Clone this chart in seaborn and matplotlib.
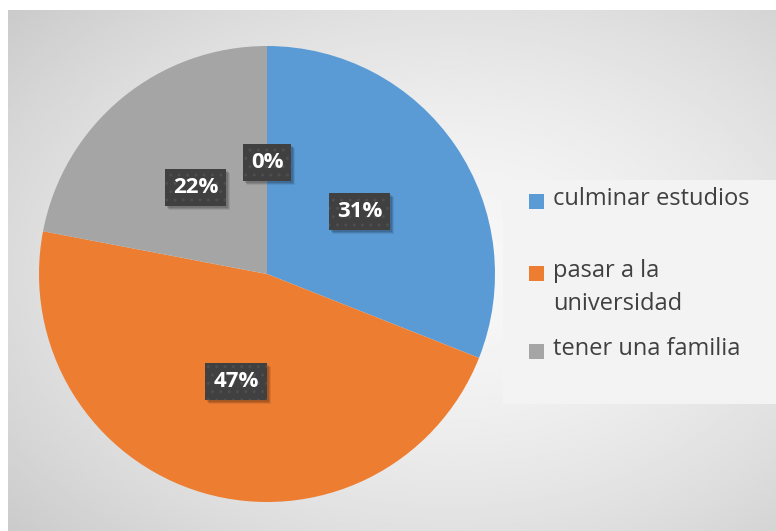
import numpy as np
import matplotlib

matplotlib.use('Agg')
import matplotlib.pyplot as plt
from matplotlib.patches import Rectangle
import seaborn as sns

categories = ['culminar estudios', 'pasar a la\nuniversidad', 'tener una familia', '']
values = [31, 47, 22, 0]
colors = ['#5B9BD5', '#ED7D31', '#A5A5A5', '#FFC000']
legend_y = [201, 273, 351]  # pixel rows of the legend entries

sns.set_style('white')
plt.rcParams['font.family'] = ['Open Sans', 'DejaVu Sans']

W, H = 776, 531
fig = plt.figure(figsize=(W / 100, H / 100), dpi=100)
fig.patch.set_facecolor('white')

# chart area with a soft radial gradient
bg = fig.add_axes([8 / W, 0, 1 - 8 / W, 1 - 10 / H])
yy, xx = np.mgrid[0:200, 0:300]
cx, cy = 300 * (450 - 8) / (W - 8), 200 * (270 - 10) / (H - 10)
d = np.sqrt(((xx - cx) / 300) ** 2 + ((yy - cy) / 200) ** 2)
shade = 0.97 - 0.19 * np.clip(d / 0.8, 0, 1) ** 1.6
bg.imshow(shade, cmap='gray', vmin=0, vmax=1, aspect='auto', interpolation='bilinear')
bg.set_axis_off()

# legend panel
fig.patches.append(Rectangle((503 / W, 1 - 404 / H), (W - 503) / W, 224 / H,
                             transform=fig.transFigure, facecolor='#f3f3f3',
                             edgecolor='none', zorder=1))

cxp, cyp, r = 267, 274, 228
ax = fig.add_axes([(cxp - r) / W, (H - cyp - r) / H, 2 * r / W, 2 * r / H])
wedges, texts, autotexts = ax.pie(values, colors=colors, startangle=90, counterclock=False,
                                  autopct='%1.0f%%', pctdistance=0.49,
                                  wedgeprops=dict(linewidth=0))
ax.set_xlim(-1, 1)
ax.set_ylim(-1, 1)
ax.set_axis_off()

for t in autotexts:
    t.set_color('white')
    t.set_fontsize(16)
    t.set_fontweight('bold')
    t.set_zorder(5)
    t.set_bbox(dict(boxstyle='square,pad=0.36', facecolor='#404040', edgecolor='#4e4e4e',
                    linewidth=0, hatch='..'))

# soft drop shadow behind the label boxes
fig.canvas.draw()
for t in autotexts:
    ext = t.get_bbox_patch().get_window_extent()
    for k, a in [(4, 0.08), (3, 0.12), (2, 0.12)]:
        ax.add_patch(Rectangle((ext.x0 + k, ext.y0 - k), ext.width, ext.height,
                               transform=None, facecolor='black', alpha=a,
                               edgecolor='none', zorder=4))

# legend entries
for label, y, c in zip(categories[:3], legend_y, colors):
    fig.patches.append(Rectangle((529 / W, 1 - (y + 7.5) / H), 15 / W, 15 / H,
                                 transform=fig.transFigure, facecolor=c,
                                 edgecolor='none', zorder=2))
    fig.text(553 / W, 1 - (y - 14) / H, label, fontsize=17, color='#404040',
             va='top', linespacing=1.5, zorder=3)

plt.savefig('out.png', dpi=100)
plt.close()
